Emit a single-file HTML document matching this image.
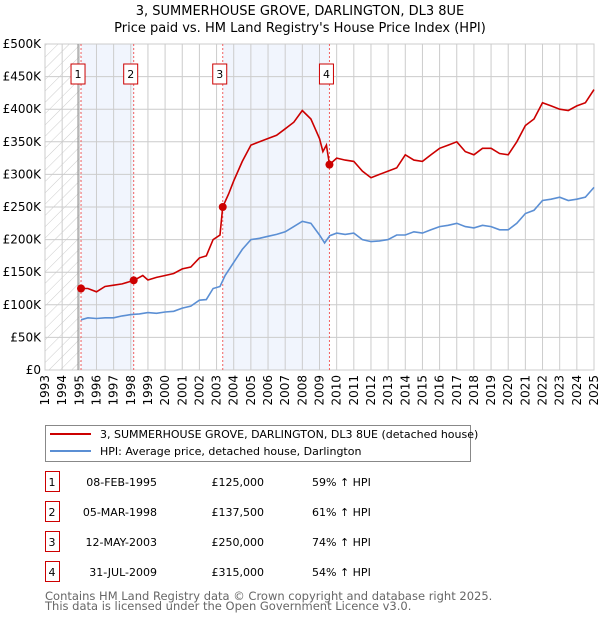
<!DOCTYPE html>
<html><head><meta charset="utf-8"><style>
body{margin:0;background:#fff;font-family:"DejaVu Sans","Liberation Sans",sans-serif;}
svg text{font-family:"DejaVu Sans","Liberation Sans",sans-serif;}
</style></head><body>
<svg id="c" width="600" height="620" viewBox="0 0 600 620">
<defs><pattern id="hatch" width="8" height="8" patternUnits="userSpaceOnUse" patternTransform="rotate(45)"><line x1="0" y1="0" x2="0" y2="8" stroke="#ccc" stroke-width="1"/></pattern></defs>
<text x="300" y="15" text-anchor="middle" font-size="13">3, SUMMERHOUSE GROVE, DARLINGTON, DL3 8UE</text>
<text x="300" y="32" text-anchor="middle" font-size="13">Price paid vs. HM Land Registry's House Price Index (HPI)</text>
<g id="plot"></g>
<g>
<rect x="45.5" y="425.5" width="425" height="36" fill="#fff" stroke="#888"/>
<line x1="50" y1="434" x2="91" y2="434" stroke="#cc0000" stroke-width="2"/>
<text x="100" y="438" font-size="11">3, SUMMERHOUSE GROVE, DARLINGTON, DL3 8UE (detached house)</text>
<line x1="50" y1="451" x2="91" y2="451" stroke="#5b8fd4" stroke-width="2"/>
<text x="100" y="455" font-size="11">HPI: Average price, detached house, Darlington</text>
</g>
<g id="table" font-size="11"></g>
<text x="45" y="600" font-size="11.5" fill="#666">Contains HM Land Registry data © Crown copyright and database right 2025.</text>
<text x="45" y="610" font-size="11.5" fill="#666">This data is licensed under the Open Government Licence v3.0.</text>
</svg>
<script>
const hpiYears=[1995.1,1995.5,1996,1996.5,1997,1997.5,1998,1998.5,1999,1999.5,2000,2000.5,2001,2001.5,2002,2002.4,2002.8,2003.2,2003.5,2004,2004.5,2005,2005.5,2006,2006.5,2007,2007.5,2008,2008.5,2009,2009.3,2009.6,2010,2010.5,2011,2011.5,2012,2012.5,2013,2013.5,2014,2014.5,2015,2015.5,2016,2016.5,2017,2017.5,2018,2018.5,2019,2019.5,2020,2020.5,2021,2021.5,2022,2022.5,2023,2023.5,2024,2024.5,2025];
const hpiValues=[77,80,79,80,80,83,85,86,88,87,89,90,95,98,107,108,125,128,145,165,185,200,202,205,208,212,220,228,225,207,195,206,210,208,210,200,197,198,200,207,207,212,210,215,220,222,225,220,218,222,220,215,215,225,240,245,260,262,265,260,262,265,280];
const priceYears=[1995.1,1995.5,1996,1996.5,1997,1997.5,1998.17,1998.7,1999,1999.5,2000,2000.5,2001,2001.5,2002,2002.4,2002.8,2003.2,2003.36,2003.7,2004,2004.5,2005,2005.5,2006,2006.5,2007,2007.5,2008,2008.5,2009,2009.2,2009.4,2009.58,2010,2010.5,2011,2011.5,2012,2012.5,2013,2013.5,2014,2014.5,2015,2015.5,2016,2016.5,2017,2017.5,2018,2018.5,2019,2019.5,2020,2020.5,2021,2021.5,2022,2022.5,2023,2023.5,2024,2024.5,2025];
const priceValues=[125,125,120,128,130,132,137.5,145,138,142,145,148,155,158,172,175,200,207,250,270,290,320,345,350,355,360,370,380,398,385,355,335,345,315,325,322,320,305,295,300,305,310,330,322,320,330,340,345,350,335,330,340,340,332,330,350,375,385,410,405,400,398,405,410,430];
const salesYears=[1995.1,1998.17,2003.36,2009.58];
const salesValues=[125,137.5,250,315];
const salesLabels=["1","2","3","4"];
const salesDates=["08-FEB-1995","05-MAR-1998","12-MAY-2003","31-JUL-2009"];
const salesPrices=["£125,000","£137,500","£250,000","£315,000"];
const salesHpi=["59% ↑ HPI","61% ↑ HPI","74% ↑ HPI","54% ↑ HPI"];
const yTicks=[0,50,100,150,200,250,300,350,400,450,500];
const yTickLabels=["£0","£50K","£100K","£150K","£200K","£250K","£300K","£350K","£400K","£450K","£500K"];
const xTicks=[1993,1994,1995,1996,1997,1998,1999,2000,2001,2002,2003,2004,2005,2006,2007,2008,2009,2010,2011,2012,2013,2014,2015,2016,2017,2018,2019,2020,2021,2022,2023,2024,2025];

const NS="http://www.w3.org/2000/svg";
const L=45,R=594,T=44,B=370;
const x=v=>L+(v-1993)/(2025-1993)*(R-L);
const y=v=>B-v/500*(B-T);
const plot=document.getElementById('plot');
function mk(tag,attrs,parent){const e=document.createElementNS(NS,tag);for(const k in attrs)e.setAttribute(k,attrs[k]);(parent||plot).appendChild(e);return e;}
let h=mk('rect',{x:L,y:T,width:x(salesYears[0])-L,height:B-T,fill:'url(#hatch)'});


[[0,1],[2,3]].forEach(([a,b])=>{
 const r=mk('rect',{x:x(salesYears[a]),y:T,width:x(salesYears[b])-x(salesYears[a]),height:B-T,fill:'#eef3fc',opacity:0.8});
 
 
});
yTicks.forEach((t,i)=>{
 mk('line',{x1:L,x2:R,y1:y(t),y2:y(t),stroke:'#ccc','stroke-width':1});
 const tx=mk('text',{x:L-4,y:y(t)+4,'text-anchor':'end','font-size':12});
 tx.textContent=yTickLabels[i];
 
 
});
xTicks.forEach(t=>{
 mk('line',{x1:x(t),x2:x(t),y1:T,y2:B,stroke:'#ccc','stroke-width':1});
 const tx=mk('text',{transform:`translate(${x(t)+4},${B+5}) rotate(-90)`,'text-anchor':'end','font-size':12});
 tx.textContent=t;
 
 
});
mk('rect',{x:L,y:T,width:R-L,height:B-T,fill:'none',stroke:'#ccc'});
mk('line',{x1:x(salesYears[0])-3,x2:x(salesYears[0])-3,y1:T,y2:B,stroke:'#888','stroke-width':1});
salesYears.forEach((s,i)=>{
 mk('line',{x1:x(s),x2:x(s),y1:T,y2:B,stroke:'#f06060','stroke-width':1,'stroke-dasharray':'2,2'});
 const bx=mk('rect',{x:x(s)-10,y:64,width:14,height:20,fill:'#fff',stroke:'#cc0000'});
 
 
 const t=mk('text',{x:x(s)-3,y:78,'text-anchor':'middle','font-size':11});
 t.textContent=salesLabels[i];
});
function line(xs,vs,color,name){
 const p=mk('path',{d:xs.map((a,i)=>(i?'L':'M')+x(a).toFixed(1)+','+y(vs[i]).toFixed(1)).join(''),fill:'none',stroke:color,'stroke-width':1.6});
 
 
}
line(hpiYears,hpiValues,'#5b8fd4','hpi-line');
line(priceYears,priceValues,'#cc0000','price-line');
salesYears.forEach((s,i)=>{
 const c=mk('circle',{cx:x(s),cy:y(salesValues[i]),r:4,fill:'#cc0000'});
 
 
});
const tb=document.getElementById('table');
salesLabels.forEach((lab,i)=>{
 const yy=483+i*30;
 const r=mk('rect',{x:45.5,y:yy-11.5,width:14,height:20,fill:'#fff',stroke:'#cc0000'},tb);
 
 
 mk('text',{x:52,y:yy+3,'text-anchor':'middle'},tb).textContent=lab;
 const d=mk('text',{x:157,y:yy+3,'text-anchor':'end'},tb);d.textContent=salesDates[i];
 
 
 const p=mk('text',{x:264,y:yy+3,'text-anchor':'end'},tb);p.textContent=salesPrices[i];
 
 
 const hp=mk('text',{x:312,y:yy+3},tb);hp.textContent=salesHpi[i];
 
 
});
</script>
</body></html>
